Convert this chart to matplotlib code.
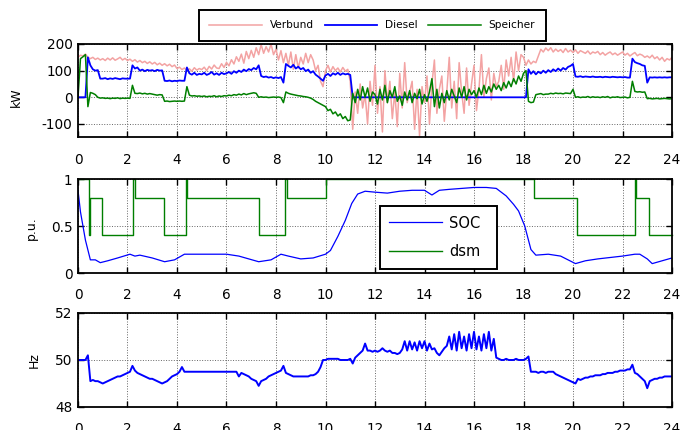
import numpy as np
import matplotlib
matplotlib.use("Agg")
import matplotlib.pyplot as plt

plt.rcParams["font.family"] = ["DejaVu Sans"]
plt.rcParams["axes.unicode_minus"] = False

# samples every 0.1 h, one row per hour
t = np.arange(241) / 10.0

verbund = [
    150, 158, 155, 162, 150, 145, 150, 142, 147, 140,
    145, 138, 147, 140, 148, 139, 144, 150, 140, 146,
    138, 143, 135, 141, 132, 138, 130, 135, 127, 133,
    125, 131, 122, 128, 120, 126, 118, 124, 115, 121,
    108, 113, 104, 110, 100, 107, 98, 111, 102, 108,
    104, 113, 100, 116, 106, 121, 110, 108, 126, 112,
    131, 118, 141, 125, 152, 135, 162, 128, 172, 145,
    176, 150, 186, 160, 198, 165, 190, 170, 200, 160,
    180, 140, 175, 130, 165, 120, 170, 105, 160, 110,
    150, 125, 165, 130, 160, 140, 100, 120, 60, 40,
    100, 120, 95, 115, 100, 110, 95, 112, 98, 105,
    60, -120, 20, -60, 50, -40, 10, -100, 60, -30,
    120, -60, 40, -130, 100, -20, 60, -80, 20, -110,
    90, -40, 130, -20, 20, 60, -120, 30, -145, 40,
    -20, 80, -100, 50, 140, -60, 30, 80, -90, 20,
    150, -40, 60, -80, 130, 20, -60, 110, -30, 50,
    120, -50, 30, 160, 0, 70, 110, -10, 90, 40,
    60, 120, 30, 140, 80, 150, 60, 170, 100, 160,
    150, 120, 140, 125, 135, 130, 155, 180, 170, 185,
    175, 186, 170, 181, 172, 179, 168, 183, 170, 177,
    168, 178, 165, 175, 170, 165, 174, 162, 170, 166,
    172, 160, 168, 158, 165, 170, 160, 166, 158, 164,
    170, 158, 165, 155, 162, 168, 156, 162, 158, 150,
    155, 148, 158, 145, 152, 140, 150, 135, 145, 140,
    150,
]

diesel = [
    0, 0, 0, 0, 150, 120, 105, 100, 102, 70,
    70, 72, 68, 71, 69, 72, 70, 68, 71, 70,
    70, 70, 120, 108, 112, 100, 104, 98, 103, 100,
    102, 98, 103, 100, 101, 62, 61, 63, 60, 62,
    61, 63, 62, 62, 112, 90, 85, 92, 84, 88,
    86, 92, 84, 88, 95, 85, 90, 84, 92, 87,
    90, 95, 88, 98, 92, 100, 95, 104, 98, 106,
    102, 110, 105, 120, 80, 76, 78, 74, 76, 72,
    75, 72, 76, 55, 125, 118, 112, 122, 108, 115,
    105, 110, 98, 104, 92, 98, 85, 78, 70, 62,
    82, 88, 80, 90, 85, 92, 84, 90, 86, 88,
    84, 0, 0, 0, 0, 0, 0, 0, 0, 0,
    0, 0, 0, 0, 0, 0, 0, 0, 0, 0,
    0, 0, 0, 0, 0, 0, 0, 0, 0, 0,
    0, 0, 0, 0, 0, 0, 0, 0, 0, 0,
    0, 0, 0, 0, 0, 0, 0, 0, 0, 0,
    0, 0, 0, 0, 0, 0, 0, 0, 0, 0,
    0, 0, 0, 0, 0, 0, 0, 0, 0, 0,
    0, 0, 105, 88, 98, 86, 96, 90, 100, 92,
    102, 95, 105, 98, 108, 100, 110, 104, 114, 118,
    125, 78, 77, 79, 76, 78, 77, 76, 78, 76,
    76, 77, 75, 77, 76, 75, 77, 76, 75, 76,
    75, 76, 74, 74, 145, 132, 128, 125, 120, 118,
    55, 75, 74, 75, 74, 75, 74, 75, 74, 75,
    75,
]

speicher = [
    0, 145, 152, 160, -35, 18, 15, 10, 0, -3,
    -2, -4, -3, -5, -3, -4, -2, -5, -3, -4,
    -3, -4, 45, 15, 14, 16, 13, 15, 12, 14,
    12, 10, 8, 10, 9, -15, -14, -16, -15, -14,
    -15, -14, -15, -14, 40, 8, 5, 6, 4, 5,
    3, 5, 2, 4, 3, 6, 2, 5, 3, 6,
    5, 8, 6, 10, 8, 12, 9, 14, 10, 13,
    15, 17, 15, 0, 2, 0, 1, -1, 0, 1,
    0, 1, -1, -20, 20, 15, 12, 10, 8, 6,
    5, 3, 2, 0, -3, -8, -15, -20, -25, -30,
    -35, -50, -45, -62, -55, -70, -62, -80, -72, -88,
    -85, 15, -20, 30, -10, 40, 0, 35, -15, 20,
    10, -25, 30, -10, 45, -20, 25, 0, 40, -15,
    5, -30, 20, -10, 25, -20, 15, -5, 30, -25,
    10, -15, 20, 70, -35, 30, -40, 15, -20, 25,
    -10, 30, 5, -20, 35, 0, 40, -10, 30, 10,
    25, 0, 35, 10, 45, 15, 40, 20, 50, 30,
    45, 25, 55, 35, 60, 40, 70, 50, 80, 60,
    90, 100, -15, -20, -18, 10, 12, 14, 10, 12,
    12, 15, 13, 16, 14, 15, 13, 16, 15, 14,
    30, 0, 2, -1, 1, 0, 3, -1, 2, 0,
    1, -1, 2, 0, 3, -2, 1, 0, 2, -1,
    0, 1, -2, 0, 60, 22, 20, 21, 19, 20,
    -5, -4, -6, -5, -4, -6, -5, -4, -5, -6,
    -5,
]

freq = [
    50.0, 50.0, 50.0, 50.0, 50.2, 49.1, 49.15, 49.1, 49.1, 49.05,
    49.0, 49.05, 49.1, 49.15, 49.2, 49.25, 49.3, 49.3, 49.35, 49.4,
    49.45, 49.5, 49.75, 49.55, 49.45, 49.4, 49.35, 49.3, 49.25, 49.2,
    49.2, 49.15, 49.1, 49.05, 49.0, 49.05, 49.1, 49.2, 49.3, 49.35,
    49.4, 49.5, 49.7, 49.5, 49.5, 49.5, 49.5, 49.5, 49.5, 49.5,
    49.5, 49.5, 49.5, 49.5, 49.5, 49.5, 49.5, 49.5, 49.5, 49.5,
    49.5, 49.5, 49.5, 49.5, 49.5, 49.3, 49.45, 49.4, 49.35, 49.3,
    49.2, 49.15, 49.1, 48.9, 49.1, 49.15, 49.2, 49.3, 49.35, 49.4,
    49.45, 49.5, 49.55, 49.75, 49.45, 49.4, 49.35, 49.3, 49.3, 49.3,
    49.3, 49.3, 49.3, 49.3, 49.35, 49.35, 49.4, 49.5, 49.7, 50.0,
    50.0, 50.05, 50.05, 50.05, 50.05, 50.05, 50.0, 50.0, 50.0, 50.0,
    50.05, 49.85, 50.1, 50.2, 50.3, 50.4, 50.7, 50.4, 50.4, 50.35,
    50.4, 50.35, 50.4, 50.5, 50.4, 50.35, 50.4, 50.3, 50.3, 50.25,
    50.3, 50.45, 50.8, 50.4, 50.8, 50.45, 50.75, 50.4, 50.8, 50.5,
    50.8, 50.4, 50.7, 50.45, 50.5, 50.3, 50.2, 50.35, 50.5, 50.6,
    51.0, 50.45, 51.1, 50.4, 51.2, 50.5, 51.0, 50.4, 51.1, 50.5,
    51.2, 50.45, 51.0, 50.4, 51.1, 50.5, 51.2, 50.4, 50.9, 50.1,
    50.05, 50.0, 50.0, 50.05, 50.0, 50.0, 50.0, 50.05, 50.0, 50.0,
    50.0, 50.05, 50.15, 49.5, 49.5, 49.5, 49.45, 49.5, 49.5, 49.45,
    49.5, 49.5, 49.5, 49.4, 49.35, 49.3, 49.25, 49.2, 49.15, 49.1,
    49.05, 49.0, 49.2, 49.15, 49.2, 49.25, 49.25, 49.3, 49.3, 49.35,
    49.35, 49.35, 49.4, 49.4, 49.45, 49.45, 49.45, 49.5, 49.5, 49.55,
    49.55, 49.55, 49.6, 49.6, 49.8, 49.45, 49.4, 49.3, 49.2, 49.1,
    48.8, 49.1, 49.15, 49.2, 49.2, 49.25, 49.25, 49.3, 49.3, 49.3,
    49.3,
]

soc_t = [0, 0.1, 0.3, 0.5, 0.7, 0.9, 1.2, 1.6, 2.1, 2.3, 2.5, 3.0, 3.5, 3.9,
         4.3, 5.0, 6.0, 6.5, 7.3, 7.8, 8.2, 8.5, 9.0, 9.5, 10.0, 10.2, 10.5,
         10.8, 11.06, 11.3, 11.6, 12.0, 12.5, 13.0, 13.5, 14.0, 14.3, 14.6,
         15.0, 15.5, 16.0, 16.5, 16.9, 17.3, 17.6, 17.8, 18.05, 18.3, 18.5,
         19.0, 19.5, 20.1, 20.5, 21.0, 22.0, 22.5, 22.7, 23.0, 23.2, 23.6, 24.0]
soc = [0.88, 0.65, 0.35, 0.14, 0.14, 0.11, 0.13, 0.16, 0.2, 0.18, 0.19, 0.16,
       0.12, 0.14, 0.2, 0.2, 0.2, 0.18, 0.12, 0.14, 0.2, 0.18, 0.15, 0.16,
       0.2, 0.24, 0.39, 0.56, 0.74, 0.84, 0.87, 0.86, 0.85, 0.87, 0.88, 0.88,
       0.83, 0.88, 0.89, 0.9, 0.91, 0.91, 0.9, 0.82, 0.73, 0.66, 0.5, 0.25,
       0.19, 0.2, 0.18, 0.1, 0.13, 0.15, 0.18, 0.2, 0.2, 0.15, 0.1, 0.13, 0.16]

dsm_t = [0, 0.45, 0.47, 0.95, 2.23, 2.3, 3.47, 4.35, 4.42, 7.32, 8.38, 8.45,
         10.0, 18.43, 20.15, 22.49, 22.56, 23.07, 24]
dsm = [1, 0.4, 0.8, 0.4, 1, 0.8, 0.4, 1, 0.8, 0.4, 1, 0.8, 1, 0.8, 0.4, 1,
       0.8, 0.4, 0.4]

pink = "#f3a3a3"
blue = "#0000ff"
green = "#007f00"


def style(ax, ylim, yticks, ylabels, ylab, ly):
    ax.set_xlim(0, 24)
    ax.set_ylim(*ylim)
    ax.set_xticks(range(0, 25, 2))
    ax.set_yticks(yticks)
    ax.set_yticklabels(ylabels)
    ax.grid(True, linestyle=":", color="0.4", linewidth=0.7)
    ax.tick_params(direction="in", top=True, right=True, length=4, width=1,
                   labelsize=9.8)
    ax.tick_params(axis="x", pad=11)
    ax.tick_params(axis="y", pad=4)
    for s in ax.spines.values():
        s.set_linewidth(1.3)
    ax.set_ylabel(ylab, fontsize=9)
    ax.yaxis.set_label_coords(ly[0], ly[1])


fig = plt.figure(figsize=(6.83, 4.3), dpi=100)

ax1 = fig.add_axes([0.1142, 0.6807, 0.8697, 0.217])
l1, = ax1.plot(t, verbund, color=pink, lw=1.1, label="Verbund")
l2, = ax1.plot(t, diesel, color=blue, lw=1.3, label="Diesel")
l3, = ax1.plot(t, speicher, color=green, lw=1.1, label="Speicher")
style(ax1, (-150, 200), [-100, 0, 100, 200], ["-100", "0", "100", "200"],
      "kW", (-0.092, 0.43))
leg1 = fig.legend(handles=[l1, l2, l3], loc="center",
                  bbox_to_anchor=(0.291, 0.905, 0.508, 0.072), mode="expand",
                  ncol=3, fontsize=7.6, handlelength=5.0, handletextpad=0.7,
                  borderpad=1.0, borderaxespad=0, fancybox=False,
                  framealpha=1)
leg1.get_frame().set_edgecolor("black")
leg1.get_frame().set_linewidth(1.4)

ax2 = fig.add_axes([0.1142, 0.3651, 0.8697, 0.2186])
ax2.plot(soc_t, soc, color=blue, lw=0.9, label="SOC")
ax2.plot(dsm_t, dsm, color=green, lw=1.0, drawstyle="steps-post",
         clip_on=False, label="dsm")
style(ax2, (0, 1), [0, 0.5, 1], ["0", "0.5", "1"], "p.u.", (-0.068, 0.48))
leg2 = ax2.legend(loc="center", bbox_to_anchor=(0.508, 0.032, 0.197, 0.691),
                  mode="expand", fontsize=10.5, handlelength=3.6,
                  handletextpad=0.5, borderpad=0.65, labelspacing=0.95,
                  borderaxespad=0, fancybox=False, framealpha=1)
leg2.get_frame().set_edgecolor("black")
leg2.get_frame().set_linewidth(1.4)

ax3 = fig.add_axes([0.1142, 0.0535, 0.8697, 0.2186])
ax3.plot(t, freq, color=blue, lw=1.4)
style(ax3, (48, 52), [48, 50, 52], ["48", "50", "52"], "Hz", (-0.062, 0.5))

fig.savefig("out.png", dpi=100)
